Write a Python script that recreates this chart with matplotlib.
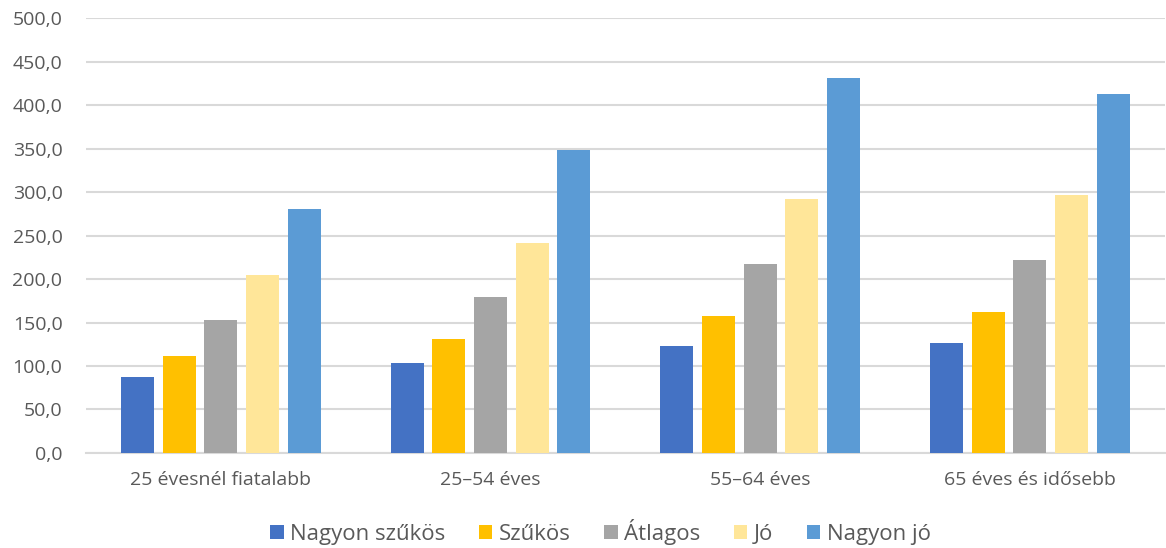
import numpy as np
import matplotlib
matplotlib.use('Agg')
import matplotlib.pyplot as plt

categories = ["25 évesnél fiatalabb", "25–54 éves", "55–64 éves", "65 éves és idősebb"]
series_names = ["Nagyon szűkös", "Szűkös", "Átlagos", "Jó", "Nagyon jó"]
nagyon_szukos = [87.4, 103.0, 123.0, 126.4]
szukos = [111.5, 131.0, 157.5, 162.0]
atlagos = [152.9, 179.0, 217.0, 222.0]
jo = [204.6, 241.0, 292.5, 296.5]
nagyon_jo = [280.0, 348.5, 431.5, 412.5]
colors = ['#4472C4', '#FFC000', '#A5A5A5', '#FFE699', '#5B9BD5']

plt.rcParams['font.family'] = ['Open Sans', 'DejaVu Sans']
text_color = '#595959'

fig = plt.figure(figsize=(11.66, 5.48), dpi=100)
ax = fig.add_axes([0.0738, 0.1734, 0.925, 0.7936])

x = np.arange(len(categories))
series = [nagyon_szukos, szukos, atlagos, jo, nagyon_jo]
step = 0.1546
for i, (vals, name) in enumerate(zip(series, series_names)):
    ax.bar(x + (i - 2) * step, vals, width=0.122, color=colors[i],
           label=name, zorder=3)

ax.set_xlim(-0.5, 3.5)
ax.set_ylim(0, 500)
ax.set_yticks(np.arange(0, 501, 50))
ax.set_yticklabels([f"{v:.1f}".replace('.', ',') for v in np.arange(0, 501, 50)])
ax.set_xticks(x)
ax.set_xticklabels(categories)
ax.grid(axis='y', color='#D9D9D9', linewidth=1.5, zorder=0)
for s in ['top', 'right', 'left']:
    ax.spines[s].set_visible(False)
ax.spines['bottom'].set_color('#D9D9D9')
ax.spines['bottom'].set_linewidth(1.5)
ax.tick_params(axis='both', length=0, labelsize=14, colors=text_color)
ax.tick_params(axis='y', pad=17)
ax.tick_params(axis='x', pad=13)

fig.legend(loc='center', bbox_to_anchor=(0.515, 0.029), ncol=5, frameon=False,
           fontsize=16, labelcolor=text_color, handlelength=0.6, handleheight=0.6,
           handletextpad=0.3, columnspacing=1.5)

plt.savefig('out.png', dpi=100)
plt.close()
